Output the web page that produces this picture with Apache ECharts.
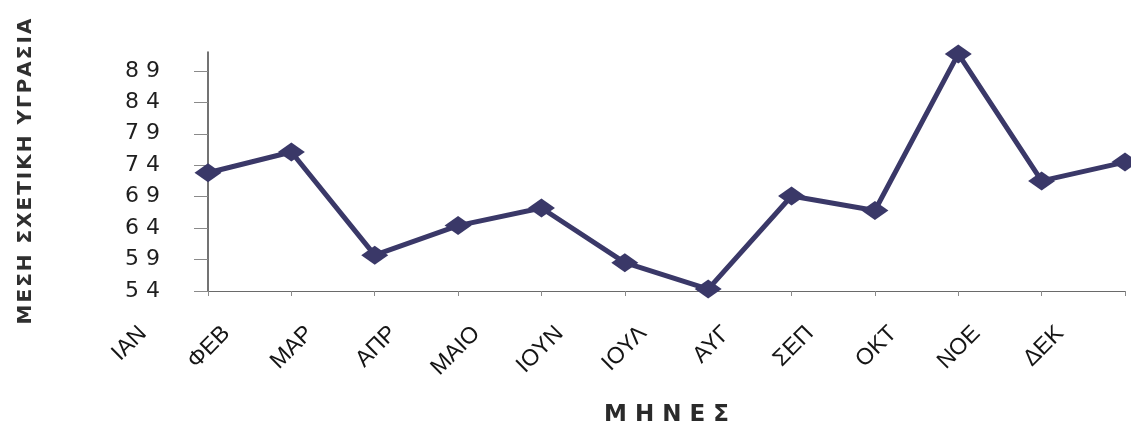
<!DOCTYPE html>
<html>
<head>
<meta charset="utf-8">
<script src="https://cdn.jsdelivr.net/npm/echarts@6/dist/echarts.min.js"></script>
<style>
  html, body { margin: 0; padding: 0; background: #ffffff; }
  #chart { width: 1131px; height: 432px; }
</style>
</head>
<body>
<div id="chart"></div>
<script>
// Month names shown under the horizontal axis
const months = ['ΙΑΝ', 'ΦΕΒ', 'ΜΑΡ', 'ΑΠΡ', 'ΜΑΙΟ', 'ΙΟΥΝ', 'ΙΟΥΛ', 'ΑΥΓ', 'ΣΕΠ', 'ΟΚΤ', 'ΝΟΕ', 'ΔΕΚ'];
// Mean relative humidity (%) per month
const humidity = [72.8, 76.1, 59.7, 64.4, 67.2, 58.5, 54.3, 69.1, 66.8, 91.7, 71.5, 74.5];
// Values marked on the vertical axis
const yTicks = [54, 59, 64, 69, 74, 79, 84, 89];
// Axis titles
const yTitle = 'ΜΕΣΗ ΣΧΕΤΙΚΗ ΥΓΡΑΣΙΑ';
const xTitle = 'Μ Η Ν Ε Σ';

const lineColor = '#3a3868';

// loosen the tracking of a title: hair spaces between letters, wider gaps between words
const track = s => s.split(' ').map(w => w.split('').join('\u200A')).join(' \u2009');

const chart = echarts.init(document.getElementById('chart'), null, { renderer: 'canvas' });

chart.setOption({
  backgroundColor: '#ffffff',
  animation: false,
  grid: [
    // plot area holding the line
    { left: 208, right: 6, top: 52, bottom: 139 },
    // band carrying the month captions
    { left: 143, right: 71, top: 52, bottom: 139 }
  ],
  xAxis: [
    {
      type: 'category',
      gridIndex: 0,
      data: months,
      boundaryGap: false,
      axisLine: { lineStyle: { color: '#6a6a6a', width: 1.2 } },
      axisTick: { show: true, length: 5, lineStyle: { color: '#8a8a8a' } },
      axisLabel: { show: false },
      splitLine: { show: false },
      name: xTitle,
      nameLocation: 'middle',
      nameGap: 113,
      nameTextStyle: {
        fontFamily: 'DejaVu Sans',
        fontWeight: 'bold',
        fontSize: 23,
        color: '#2a2a2a'
      }
    },
    {
      type: 'category',
      gridIndex: 1,
      data: months,
      boundaryGap: false,
      axisLine: { show: false },
      axisTick: { show: false },
      splitLine: { show: false },
      axisLabel: {
        interval: 0,
        rotate: 45,
        margin: 37,
        fontFamily: 'Liberation Sans',
        fontSize: 23,
        color: '#151515'
      }
    }
  ],
  yAxis: [
    {
      type: 'value',
      gridIndex: 0,
      min: 54,
      max: 92,
      axisLine: { show: true, lineStyle: { color: '#444444', width: 1.5 } },
      axisTick: {
        show: true,
        length: 14,
        customValues: yTicks,
        lineStyle: { color: '#8a8a8a', width: 1 }
      },
      axisLabel: {
        customValues: yTicks,
        margin: 48,
        fontFamily: 'DejaVu Sans',
        fontSize: 22,
        color: '#1e1e1e',
        formatter: v => String(v).split('').join(' ')
      },
      splitLine: { show: false },
      name: track(yTitle),
      nameLocation: 'middle',
      nameRotate: 90,
      nameGap: 172,
      nameTextStyle: {
        fontFamily: 'DejaVu Sans',
        fontWeight: 'bold',
        fontSize: 20,
        color: '#2f2f2f'
      }
    },
    {
      type: 'value',
      gridIndex: 1,
      min: 54,
      max: 92,
      show: false
    }
  ],
  series: [
    {
      type: 'line',
      xAxisIndex: 0,
      yAxisIndex: 0,
      data: humidity,
      clip: false,
      symbol: 'diamond',
      symbolSize: [27, 19],
      lineStyle: { color: lineColor, width: 5 },
      itemStyle: { color: lineColor },
      emphasis: { disabled: true }
    }
  ]
});
</script>
</body>
</html>
